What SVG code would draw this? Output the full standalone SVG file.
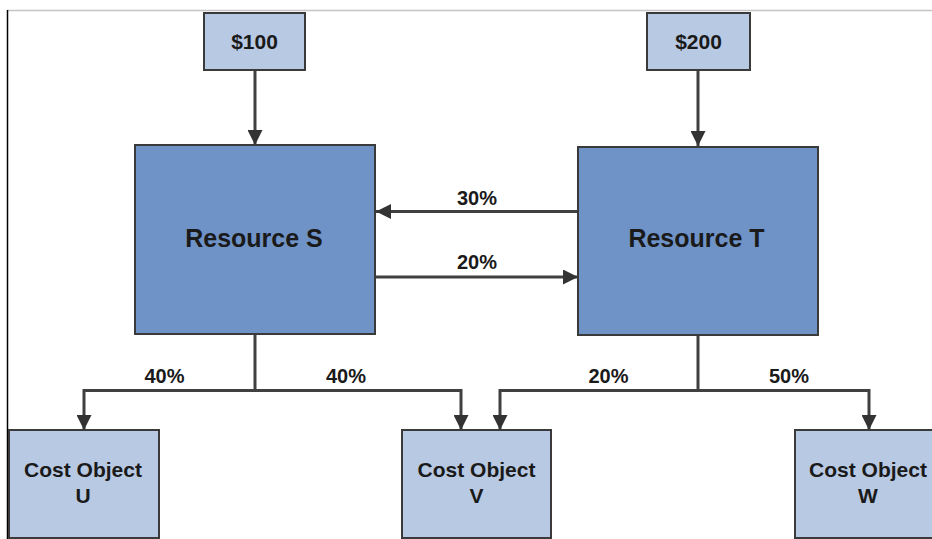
<svg xmlns="http://www.w3.org/2000/svg" width="932" height="539" viewBox="0 0 932 539">
<defs>
<style>
.light{fill:#b8c9e3;stroke:#3a3a3a;stroke-width:2}
.dark{fill:#6f93c7;stroke:#3a3a3a;stroke-width:2}
.t{font-family:"Liberation Sans",Arial,sans-serif;font-weight:bold;fill:#1a1a1a;text-anchor:middle}
.c{fill:none;stroke:#404040;stroke-width:3}
</style>
<marker id="ah" markerUnits="userSpaceOnUse" markerWidth="15" markerHeight="15" viewBox="0 0 15 15" refX="15" refY="7.5" orient="auto">
<path d="M0,0 L15,7.5 L0,15 z" fill="#333"/>
</marker>
</defs>
<rect width="932" height="539" fill="#fff"/>
<line x1="7" y1="10.5" x2="932" y2="10.5" stroke="#c4c4c4" stroke-width="1.5"/>
<line x1="7.5" y1="10" x2="7.5" y2="539" stroke="#000" stroke-width="1.5"/>
<g id="connectors">
<line class="c" x1="255" y1="70" x2="255" y2="145" marker-end="url(#ah)"/>
<line class="c" x1="698" y1="70" x2="698" y2="146" marker-end="url(#ah)"/>
<line class="c" x1="578" y1="211.5" x2="376" y2="211.5" marker-end="url(#ah)"/>
<line class="c" x1="376" y1="277" x2="578" y2="277" marker-end="url(#ah)"/>
<polyline class="c" points="255,334 255,390.5"/>
<polyline class="c" points="255,390.5 84,390.5 84,430" marker-end="url(#ah)"/>
<polyline class="c" points="255,390.5 461,390.5 461,430" marker-end="url(#ah)"/>
<polyline class="c" points="698,335 698,390.5"/>
<polyline class="c" points="698,390.5 500,390.5 500,430" marker-end="url(#ah)"/>
<polyline class="c" points="698,390.5 869,390.5 869,430" marker-end="url(#ah)"/>
<text class="t" x="477" y="205" font-size="20">30%</text>
<text class="t" x="477" y="269" font-size="20">20%</text>
<text class="t" x="164.5" y="383" font-size="20">40%</text>
<text class="t" x="346" y="383" font-size="20">40%</text>
<text class="t" x="608.5" y="383" font-size="20">20%</text>
<text class="t" x="789" y="383" font-size="20">50%</text>
</g>
<g id="n100">
<rect class="light" x="204" y="13" width="101" height="57"/>
<text class="t" x="254.5" y="48.5" font-size="21">$100</text>
</g>
<g id="n200">
<rect class="light" x="647" y="13" width="103" height="57"/>
<text class="t" x="698.5" y="48.5" font-size="21">$200</text>
</g>
<g id="resS">
<rect class="dark" x="135" y="145" width="240" height="189"/>
<text class="t" x="254" y="247" font-size="25">Resource S</text>
</g>
<g id="resT">
<rect class="dark" x="578" y="147" width="240" height="188"/>
<text class="t" x="696.5" y="247" font-size="25">Resource T</text>
</g>
<g id="costU">
<rect class="light" x="9" y="430" width="150" height="108"/>
<text class="t" x="83" y="477" font-size="21">Cost Object</text>
<text class="t" x="83" y="503" font-size="21">U</text>
</g>
<g id="costV">
<rect class="light" x="402" y="430" width="149" height="108"/>
<text class="t" x="476.5" y="477" font-size="21">Cost Object</text>
<text class="t" x="476.5" y="503" font-size="21">V</text>
</g>
<g id="costW">
<rect class="light" x="795" y="430" width="150" height="108"/>
<text class="t" x="868" y="477" font-size="21">Cost Object</text>
<text class="t" x="868" y="503" font-size="21">W</text>
</g>
</svg>
